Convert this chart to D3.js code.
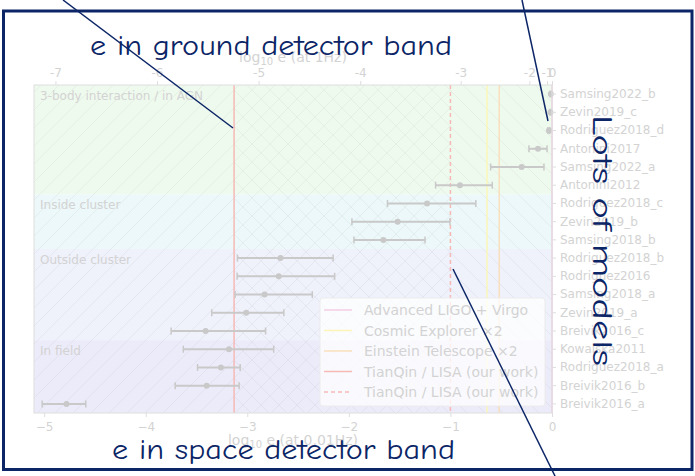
<!DOCTYPE html>
<html><head><meta charset="utf-8">
<script src="https://cdn.jsdelivr.net/npm/d3@7"></script>
<style>body{margin:0;background:#fff}svg{display:block}</style>
</head><body>
<svg id="c" width="695" height="476"></svg>
<script>
// ---- data ----
const models = ["Samsing2022_b","Zevin2019_c","Rodriguez2018_d","Antonini2017","Samsing2022_a","Antonini2012",
  "Rodriguez2018_c","Zevin2019_b","Samsing2018_b","Rodriguez2018_b","Rodriguez2016","Samsing2018_a",
  "Zevin2019_a","Breivik2016_c","Kowalska2011","Rodriguez2018_a","Breivik2016_b","Breivik2016_a"];
const centers = [-0.012,-0.015,-0.03,-0.138,-0.299,-0.906,-1.23,-1.52,-1.66,-2.673,-2.69,-2.83,-3.01,-3.41,-3.18,-3.26,-3.40,-4.78];
const lows    = [-0.02,-0.022,-0.04,-0.227,-0.604,-1.146,-1.62,-1.97,-1.95,-3.097,-3.10,-3.12,-3.35,-3.75,-3.63,-3.49,-3.71,-5.02];
const highs   = [-0.004,-0.008,-0.022,-0.049,-0.079,-0.588,-0.75,-1.005,-1.25,-2.155,-2.14,-2.36,-2.64,-2.82,-2.74,-3.07,-3.08,-4.59];

const groupNames  = ["3-body interaction / in AGN","Inside cluster","Outside cluster","In field"];
const groupStarts = [0,6,9,14];
const groupEnds   = [6,9,14,18];
const groupColors = ["#effaee","#ecf8f9","#eff1fb","#ecebf9"];

const bottomTicks = [-5,-4,-3,-2,-1,0];
const topTickLabels = [-7,-6,-5,-4,-3,-2,-1,0];
const topTickAt     = [-4.889,-3.889,-2.889,-1.888,-0.899,-0.223,-0.049,0]; // in log10 e(0.01Hz)

const detNames  = ["Advanced LIGO + Virgo","Cosmic Explorer ×2","Einstein Telescope ×2","TianQin / LISA (our work)","TianQin / LISA (our work)"];
const detValues = [0,-0.64,-0.52,-3.13,-1.0];
const detColors = ["#f5cfe4","#fbf6b8","#f8dfbd","#f6b9b6","#f6b9b6"];
const detDash   = [null,null,null,null,"4,3"];

const spaceBandMax = -1.0;     // "/" hatch region upper bound
const groundBandMin = -3.13;   // "\" hatch region lower bound

// ---- layout ----
const svg = d3.select("#c");
const L=34,R=552,T=85,B=413;
const x = d3.scaleLinear().domain([-5.1,0]).range([L,R]);
const y = d3.scaleBand().domain(models).range([T,B]).padding(0);
const faint = "#d3d3d3";
const navy = "#0b2566";

const defs = svg.append("defs");
function hatch(id, dir){
  const p = defs.append("pattern").attr("id",id).attr("patternUnits","userSpaceOnUse")
    .attr("width",18).attr("height",18);
  if(dir>0) p.append("path").attr("d","M-2,20 L20,-2 M-2,2 L2,-2 M16,20 L20,16");
  else p.append("path").attr("d","M-2,-2 L20,20 M16,-2 L20,2 M-2,16 L2,20");
  p.select("path").attr("stroke","#000").attr("stroke-opacity",0.045).attr("stroke-width",1);
}
hatch("hf",1); hatch("hb",-1);

// group backgrounds
groupNames.forEach((g,i)=>{
  const y0 = y(models[groupStarts[i]]), y1 = y(models[groupEnds[i]-1]) + y.bandwidth();
  svg.append("rect").attr("x",L).attr("y",y0).attr("width",R-L).attr("height",y1-y0).attr("fill",groupColors[i]);
});
// hatches
svg.append("rect").attr("x",L).attr("y",T).attr("width",x(spaceBandMax)-L).attr("height",B-T).attr("fill","url(#hf)");
svg.append("rect").attr("x",x(groundBandMin)).attr("y",T).attr("width",R-x(groundBandMin)).attr("height",B-T).attr("fill","url(#hb)");

// group labels
groupNames.forEach((g,i)=>{
  svg.append("text").attr("x",L+6).attr("y",y(models[groupStarts[i]])+15)
    .attr("font-family","DejaVu Sans").attr("font-size",12).attr("fill",faint).text(g);
});

// detector lines
detValues.forEach((v,i)=>{
  svg.append("line").attr("x1",x(v)).attr("x2",x(v)).attr("y1",T).attr("y2",B)
    .attr("stroke",detColors[i]).attr("stroke-width",1.5).attr("stroke-dasharray",detDash[i]);
});

// error bars
const eb = svg.append("g").attr("stroke","#c9c9c9").attr("stroke-width",2).attr("fill","#c9c9c9");
models.forEach((m,i)=>{
  const cy = y(m)+y.bandwidth()/2;
  eb.append("line").attr("x1",x(lows[i])).attr("x2",x(highs[i])).attr("y1",cy).attr("y2",cy);
  eb.append("line").attr("x1",x(lows[i])).attr("x2",x(lows[i])).attr("y1",cy-3.5).attr("y2",cy+3.5).attr("stroke-width",1.5);
  eb.append("line").attr("x1",x(highs[i])).attr("x2",x(highs[i])).attr("y1",cy-3.5).attr("y2",cy+3.5).attr("stroke-width",1.5);
  eb.append("circle").attr("cx",x(centers[i])).attr("cy",cy).attr("r",3).attr("stroke","none");
});

// frame of plot
svg.append("rect").attr("x",L).attr("y",T).attr("width",R-L).attr("height",B-T)
  .attr("fill","none").attr("stroke","#dedede").attr("stroke-width",1);

// axes
function styleAxis(g){
  g.select(".domain").remove();
  g.selectAll("line").attr("stroke","#dedede");
  g.selectAll("text").attr("fill",faint).attr("font-family","DejaVu Sans").attr("font-size",12);
}
svg.append("g").attr("transform",`translate(0,${B})`)
  .call(d3.axisBottom(x).tickValues(bottomTicks).tickSize(4).tickPadding(5).tickFormat(d=>d===0?"0":"\u2212"+Math.abs(d)))
  .call(styleAxis);
const xTop = d3.scaleLinear().domain(x.domain()).range(x.range());
svg.append("g").attr("transform",`translate(0,${T})`)
  .call(d3.axisTop(xTop).tickValues(topTickAt).tickSize(4).tickPadding(4)
    .tickFormat((d,i)=>String(topTickLabels[i])))
  .call(styleAxis);
svg.append("g").attr("transform",`translate(${R},0)`)
  .call(d3.axisRight(y).tickSize(4).tickPadding(4))
  .call(styleAxis);

// axis labels
const lblB = svg.append("text").attr("x",(L+R)/2).attr("y",445).attr("text-anchor","middle")
  .attr("font-family","DejaVu Sans").attr("font-size",14).attr("fill",faint);
lblB.append("tspan").text("log");
lblB.append("tspan").attr("font-size",10).attr("dy",3).text("10");
lblB.append("tspan").attr("dy",-3).text(" e (at 0.01Hz)");
const lblT = svg.append("text").attr("x",(L+R)/2).attr("y",62).attr("text-anchor","middle")
  .attr("font-family","DejaVu Sans").attr("font-size",14).attr("fill",faint);
lblT.append("tspan").text("log");
lblT.append("tspan").attr("font-size",10).attr("dy",3).text("10");
lblT.append("tspan").attr("dy",-3).text(" e (at 1Hz)");

// legend
const lg = svg.append("g");
lg.append("rect").attr("x",320).attr("y",298).attr("width",225).attr("height",108).attr("rx",3)
  .attr("fill","#fff").attr("fill-opacity",0.75).attr("stroke","#ececec");
detNames.forEach((n,i)=>{
  const yy = 310 + i*20.5;
  lg.append("line").attr("x1",324).attr("x2",352).attr("y1",yy).attr("y2",yy)
    .attr("stroke",detColors[i]).attr("stroke-width",1.5).attr("stroke-dasharray",detDash[i]);
  lg.append("text").attr("x",364).attr("y",yy+5).attr("font-family","DejaVu Sans").attr("font-size",14)
    .attr("fill",faint).text(n);
});

// overlay annotations
svg.append("rect").attr("x",3.5).attr("y",11).attr("width",688.5).attr("height",458.5)
  .attr("fill","none").attr("stroke",navy).attr("stroke-width",3);
const ann = svg.append("g").attr("stroke",navy).attr("stroke-width",1.5);
ann.append("line").attr("x1",63).attr("y1",0).attr("x2",233).attr("y2",128);
ann.append("line").attr("x1",522).attr("y1",0).attr("x2",548).attr("y2",121);
ann.append("line").attr("x1",453).attr("y1",269).attr("x2",555).attr("y2",476);

const ff = "'Comic Neue','Comic Sans MS','DejaVu Sans'";
svg.append("text").attr("x",90).attr("y",55).attr("font-family",ff).attr("font-size",28)
  .attr("fill",navy).attr("textLength",362).attr("lengthAdjust","spacingAndGlyphs").text("e in ground detector band");
svg.append("text").attr("x",112).attr("y",459).attr("font-family",ff).attr("font-size",28)
  .attr("fill",navy).attr("textLength",343).attr("lengthAdjust","spacingAndGlyphs").text("e in space detector band");
svg.append("text").attr("transform","translate(593,115) rotate(90)").attr("font-family",ff).attr("font-size",28)
  .attr("fill",navy).attr("textLength",251).attr("lengthAdjust","spacingAndGlyphs").text("Lots of models");
</script>
</body></html>
